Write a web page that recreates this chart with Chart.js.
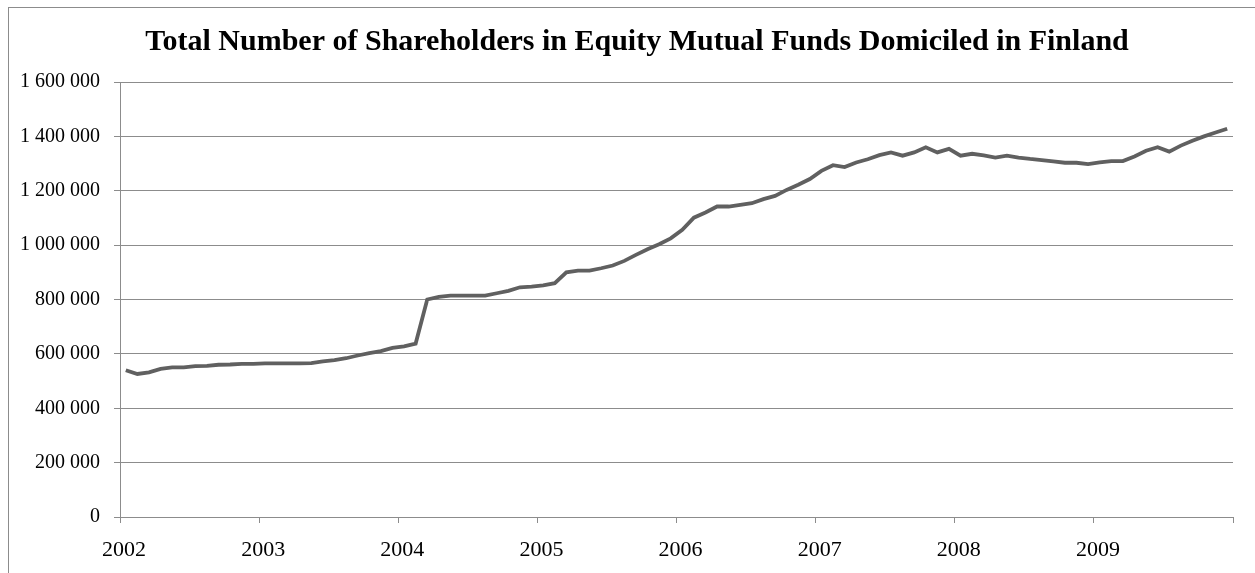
<!DOCTYPE html>
<html>
<head>
<meta charset="utf-8">
<script src="https://cdn.jsdelivr.net/npm/chart.js@4.4.0/dist/chart.umd.min.js"></script>
<style>
  body { margin: 0; background: #fff; }
  .wrap { position: relative; width: 1255px; height: 573px; overflow: hidden; }
  .frame { position: absolute; left: 8px; top: 7px; width: 1300px; height: 600px;
           border-top: 1px solid #8c8c8c; border-left: 1px solid #8c8c8c; }
  canvas { position: absolute; left: 0; top: 0; }
</style>
</head>
<body>
<div class="wrap">
  <div class="frame"></div>
  <canvas id="grafico" width="1255" height="573"></canvas>
</div>
<script>
// tick labels for the x axis (one per year)
const anos = ["2002", "2003", "2004", "2005", "2006", "2007", "2008", "2009"];

// monthly number of shareholders, Jan..Dec of each year
const dados2002 = [540000, 526000, 532000, 545000, 550000, 550000, 555000, 556000, 560000, 561000, 563000, 563000];
const dados2003 = [565000, 565000, 565000, 565000, 566000, 572000, 577000, 584000, 594000, 603000, 610000, 622000];
const dados2004 = [628000, 638000, 800000, 810000, 814000, 814000, 814000, 814000, 823000, 832000, 845000, 847000];
const dados2005 = [852000, 860000, 900000, 906000, 906000, 915000, 925000, 942000, 964000, 985000, 1003000, 1025000];
const dados2006 = [1056000, 1101000, 1120000, 1142000, 1142000, 1148000, 1154000, 1169000, 1181000, 1203000, 1222000, 1243000];
const dados2007 = [1273000, 1294000, 1287000, 1304000, 1316000, 1331000, 1341000, 1329000, 1341000, 1360000, 1341000, 1354000];
const dados2008 = [1329000, 1336000, 1330000, 1322000, 1329000, 1322000, 1317000, 1313000, 1308000, 1303000, 1303000, 1298000];
const dados2009 = [1304000, 1309000, 1309000, 1326000, 1347000, 1360000, 1344000, 1366000, 1384000, 1400000, 1414000, 1428000];

const valores = [].concat(dados2002, dados2003, dados2004, dados2005, dados2006, dados2007, dados2008, dados2009);

// each month sits in the middle of its slot on the axis
const pontos = valores.map((v, i) => ({ x: i + 0.5, y: v }));

const titulo = "Total Number of Shareholders in Equity Mutual Funds Domiciled in Finland";

function formatarNumero(valor) {
    return String(valor).replace(/\B(?=(\d{3})+(?!\d))/g, " ");
}

const corGrade = "#8c8c8c";
const fonte = "'Liberation Serif', 'Times New Roman', serif";

// the title of the original is centred on the whole picture, not on the padded area
const tituloPlugin = {
    id: "tituloCentro",
    afterDraw(chart) {
        const c = chart.ctx;
        c.save();
        c.font = "bold 30px " + fonte;
        c.fillStyle = "#000";
        c.textAlign = "center";
        c.textBaseline = "middle";
        c.fillText(titulo, 637, 42);
        c.restore();
    }
};

var ctx = document.getElementById("grafico").getContext("2d");
var myChart = new Chart(ctx, {
    type: "line",
    data: {
        datasets: [
            {
                label: "Shareholders",
                data: pontos,
                borderColor: "#606060",
                borderWidth: 3.8,
                pointRadius: 0,
                tension: 0,
                fill: false
            }
        ]
    },
    options: {
        responsive: false,
        animation: false,
        layout: { padding: { left: 0, right: 22, top: 82, bottom: 0 } },
        plugins: {
            legend: { display: false },
            tooltip: { enabled: false },
            title: { display: false }
        },
        scales: {
            x: {
                type: "linear",
                min: 0,
                max: 96,
                afterFit: (scale) => { scale.height = 56; },
                afterBuildTicks: (scale) => {
                    scale.ticks = [];
                    for (let v = 0; v <= 96; v += 12) scale.ticks.push({ value: v });
                },
                grid: {
                    drawOnChartArea: false,
                    drawTicks: true,
                    tickLength: 6,
                    color: corGrade
                },
                border: { display: true, color: corGrade, width: 1 },
                ticks: {
                    color: "#000",
                    font: { family: fonte, size: 22 },
                    padding: 14,
                    labelOffset: 4,
                    maxRotation: 0,
                    autoSkip: false,
                    callback: (v) => (v < 96 ? anos[v / 12] : "")
                }
            },
            y: {
                min: 0,
                max: 1600000,
                afterFit: (scale) => { scale.width = 120; },
                grid: {
                    color: corGrade,
                    drawTicks: true,
                    tickLength: 6
                },
                border: { display: true, color: corGrade, width: 1 },
                ticks: {
                    stepSize: 200000,
                    color: "#000",
                    font: { family: fonte, size: 20 },
                    padding: 14,
                    callback: (v) => formatarNumero(v)
                }
            }
        }
    },
    plugins: [tituloPlugin]
});
</script>
</body>
</html>
